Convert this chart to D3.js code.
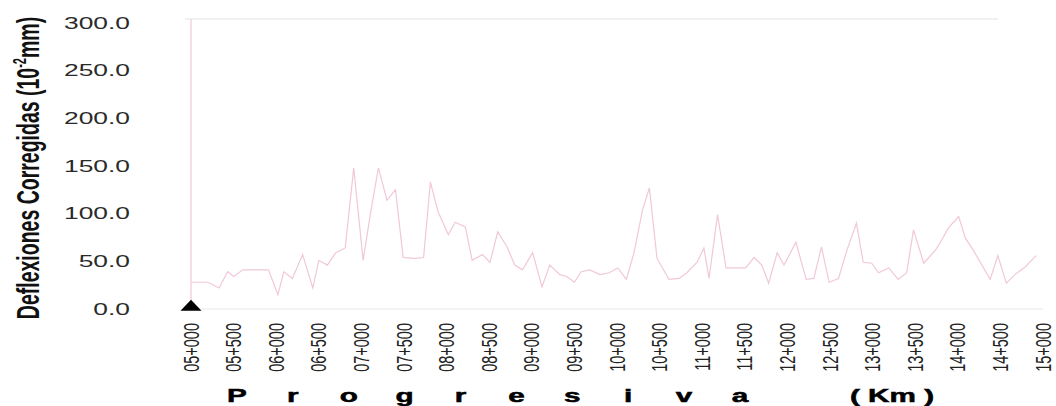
<!DOCTYPE html>
<html>
<head>
<meta charset="utf-8">
<script src="https://cdn.jsdelivr.net/npm/d3@7"></script>
<style>
  body { margin: 0; background: #fff; }
  svg text { font-family: "Liberation Sans", Arial, sans-serif; }
</style>
</head>
<body>
<svg class="deflexiones" width="1056" height="406"></svg>
<script>
// Deflexiones corregidas a lo largo de la progresiva (km)
var stations = [5.00, 5.20, 5.33, 5.43, 5.50, 5.61, 5.91, 6.02, 6.09, 6.19,
    6.31, 6.43, 6.50, 6.60, 6.70, 6.81, 6.91, 7.02, 7.11, 7.20,
    7.30, 7.40, 7.49, 7.63, 7.73, 7.81, 7.90, 8.02, 8.10, 8.22,
    8.30, 8.42, 8.51, 8.60, 8.71, 8.80, 8.89, 9.01, 9.12, 9.21,
    9.33, 9.41, 9.50, 9.58, 9.68, 9.80, 9.91, 10.01, 10.11, 10.20,
    10.30, 10.38, 10.47, 10.61, 10.73, 10.82, 10.94, 11.02, 11.08, 11.18,
    11.28, 11.40, 11.51, 11.61, 11.70, 11.78, 11.88, 11.96, 12.10, 12.22,
    12.31, 12.40, 12.49, 12.60, 12.70, 12.81, 12.89, 12.99, 13.07, 13.19,
    13.30, 13.40, 13.48, 13.60, 13.74, 13.81, 13.89, 14.01, 14.09, 14.18,
    14.27, 14.38, 14.47, 14.57, 14.67, 14.79, 14.92];
var deflexion = [27, 27, 21, 38, 33, 40, 40, 14, 38, 31,
    56, 21, 50, 45, 58, 63, 147, 50, 101, 147,
    113, 124, 53, 52, 53, 132, 101, 77, 90, 85,
    50, 56, 48, 80, 64, 45, 40, 58, 22, 45,
    35, 33, 27, 38, 40, 35, 37, 42, 30, 58,
    103, 126, 52, 30, 31, 37, 48, 63, 31, 98,
    42, 42, 42, 53, 45, 26, 58, 45, 69, 30,
    31, 64, 27, 31, 61, 89, 48, 47, 37, 42,
    30, 37, 82, 47, 61, 71, 84, 96, 73, 61,
    47, 30, 55, 26, 35, 43, 55];
var xTicks = d3.range(5, 15.001, 0.5);
var yTicks = [0, 50, 100, 150, 200, 250, 300];
var titleLetters = ["P", "r", "o", "g", "r", "e", "s", "i", "v", "a"];
var marker = [{km: 5, value: 0}];

var svg = d3.select("svg.deflexiones"),
    margin = {top: 19, right: 13, bottom: 98, left: 191},
    width = svg.attr("width") - margin.left - margin.right,
    height = svg.attr("height") - margin.top - margin.bottom;

var sx = 1.65; // the picture is stretched sideways, text too

var x = d3.scaleLinear().domain([5, 15]).range([margin.left, margin.left + width]);
var y = d3.scaleLinear().domain([0, 300]).range([margin.top + height, margin.top + 3]);

var lineColor = "#f1c7da";

// frame lines
svg.append("line")
    .attr("x1", margin.left - 6).attr("x2", 998)
    .attr("y1", margin.top).attr("y2", margin.top)
    .attr("stroke", "#ededed").attr("stroke-width", 1.5);
svg.append("line")
    .attr("x1", margin.left + 4).attr("x2", margin.left + width)
    .attr("y1", y(0) + 1).attr("y2", y(0) + 1)
    .attr("stroke", "#efefef").attr("stroke-width", 1.5);
svg.append("line")
    .attr("x1", margin.left).attr("x2", margin.left)
    .attr("y1", margin.top).attr("y2", y(0))
    .attr("stroke", "#f3d3e1").attr("stroke-width", 1.5);

// the data line
var data = stations.map(function(k, i) { return {km: k, value: deflexion[i]}; });
var line = d3.line()
    .x(function(d) { return x(d.km); })
    .y(function(d) { return y(d.value); });
svg.append("path")
    .attr("d", line(data))
    .attr("fill", "none")
    .attr("stroke", lineColor)
    .attr("stroke-width", 1.2);

// triangle at origin
svg.selectAll("path.marker")
    .data(marker)
    .enter().append("path")
    .attr("class", "marker")
    .attr("d", d3.symbol().type(d3.symbolTriangle).size(70))
    .attr("transform", function(d) {
        return "translate(" + x(d.km) + "," + (y(d.value) - 1) + ") scale(" + sx + ",1)";
    })
    .attr("fill", "#000");

// y tick labels
svg.selectAll("text.ytick")
    .data(yTicks)
    .enter().append("text")
    .attr("class", "ytick")
    .attr("transform", function(d) { return "translate(130," + (y(d) + 1) + ") scale(" + sx + ",1)"; })
    .attr("text-anchor", "end")
    .attr("dy", "0.35em")
    .attr("font-size", "16px")
    .attr("fill", "#2a2a2a")
    .text(function(d) { return d.toFixed(1); });

// x tick labels, rotated
svg.selectAll("text.xtick")
    .data(xTicks)
    .enter().append("text")
    .attr("class", "xtick")
    .attr("transform", function(d) { return "translate(" + x(d) + ",323) scale(1.5,1) rotate(-90)"; })
    .attr("text-anchor", "end")
    .attr("dy", "0.35em")
    .attr("font-size", "14.5px")
    .attr("fill", "#222")
    .text(function(d) {
        var km = Math.floor(d + 1e-9), m = Math.round((d - km) * 1000);
        return (km < 10 ? "0" : "") + km + "+" + (m === 0 ? "000" : m);
    });

// y title
var yTitle = svg.append("text")
    .attr("transform", "translate(39,168) scale(" + sx + ",1) rotate(-90)")
    .attr("text-anchor", "middle")
    .attr("font-size", "19.5px")
    .attr("font-weight", "bold")
    .attr("fill", "#111");
yTitle.append("tspan").text("Deflexiones Corregidas (10");
yTitle.append("tspan").attr("font-size", "11px").attr("dy", "-8").text("-2");
yTitle.append("tspan").attr("dy", "8").text("mm)");

// x title, spaced letters
var tx = d3.scaleLinear().domain([0, titleLetters.length - 1]).range([237, 740]);
svg.selectAll("text.xtitle")
    .data(titleLetters)
    .enter().append("text")
    .attr("class", "xtitle")
    .attr("transform", function(d, i) { return "translate(" + tx(i) + ",402) scale(" + sx + ",1)"; })
    .attr("text-anchor", "middle")
    .attr("font-size", "18px")
    .attr("font-weight", "bold")
    .attr("stroke", "#000").attr("stroke-width", 0.5)
    .attr("fill", "#000")
    .text(function(d) { return d; });
svg.append("text")
    .attr("transform", "translate(892,402) scale(" + sx + ",1)")
    .attr("text-anchor", "middle")
    .attr("font-size", "18px")
    .attr("font-weight", "bold")
    .attr("stroke", "#000").attr("stroke-width", 0.5)
    .attr("fill", "#000")
    .style("white-space", "pre")
    .text("( Km )");
</script>
</body>
</html>
